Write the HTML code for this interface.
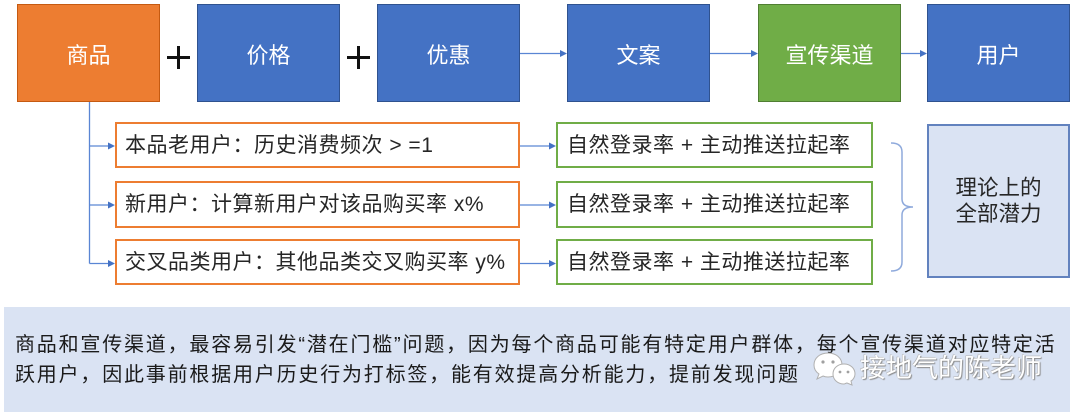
<!DOCTYPE html>
<html><head><meta charset="utf-8">
<style>
*{margin:0;padding:0;box-sizing:border-box}
body{width:1080px;height:417px;background:#fff;position:relative;overflow:hidden;font-family:"Liberation Sans","Noto Sans CJK SC",sans-serif;}
.b{position:absolute;display:flex;align-items:center;justify-content:center;color:#fff;font-size:22px;line-height:1;}
.t{top:4px;height:98px;width:143px;padding-top:6px;}
.blue{background:#4472C4;border:1px solid #2F528F}
.org{background:#ED7D31;border:1px solid #C55A11}
.grn{background:#70AD47;border:1px solid #507E32}
.r{position:absolute;display:flex;align-items:center;height:46px;font-size:21px;letter-spacing:0.5px;color:#262626;background:#fff;line-height:1;white-space:nowrap;}
.ro{left:115px;width:405px;border:2px solid #ED7D31;padding-left:8px;}
.rg{left:556px;width:317px;border:2px solid #70AD47;padding-left:9px;}
.bar{position:absolute;background:#111}
.panel{position:absolute;left:4px;top:307px;width:1066px;height:105px;background:#DAE3F3;}
.pl{position:absolute;left:15px;font-size:20px;line-height:30px;letter-spacing:1.8px;color:#1a1a1a;white-space:nowrap;}
</style></head>
<body>
<div class="b t org" style="left:17px">商品</div>
<div class="b t blue" style="left:197px">价格</div>
<div class="b t blue" style="left:377px">优惠</div>
<div class="b t blue" style="left:567px">文案</div>
<div class="b t grn" style="left:758px">宣传渠道</div>
<div class="b t blue" style="left:927px">用户</div>

<div class="bar" style="left:167px;top:56px;width:23px;height:3px"></div>
<div class="bar" style="left:177px;top:46px;width:3px;height:23px"></div>
<div class="bar" style="left:347px;top:56px;width:23px;height:3px"></div>
<div class="bar" style="left:357px;top:46px;width:3px;height:23px"></div>

<div class="r ro" style="top:122px">本品老用户：历史消费频次 &gt; =1</div>
<div class="r ro" style="top:181px;height:47px">新用户：计算新用户对该品购买率 x%</div>
<div class="r ro" style="top:239px">交叉品类用户：其他品类交叉购买率 y%</div>

<div class="r rg" style="top:122px">自然登录率 + 主动推送拉起率</div>
<div class="r rg" style="top:181px;height:47px">自然登录率 + 主动推送拉起率</div>
<div class="r rg" style="top:239px">自然登录率 + 主动推送拉起率</div>

<div style="position:absolute;left:927px;top:124px;width:143px;height:154px;background:#DAE3F3;border:2px solid #6282be;display:flex;align-items:center;justify-content:center;text-align:center;font-size:21.5px;line-height:26px;color:#262626;">理论上的<br>全部潜力</div>

<div class="panel"></div>
<div class="pl" style="top:330px">商品和宣传渠道，最容易引发“潜在门槛”问题，因为每个商品可能有特定用户群体，每个宣传渠道对应特定活</div>
<div class="pl" style="top:360px">跃用户，因此事前根据用户历史行为打标签，能有效提高分析能力，提前发现问题</div>

<svg width="1080" height="417" style="position:absolute;left:0;top:0" xmlns="http://www.w3.org/2000/svg">
<g stroke="#5a86d4" stroke-width="1.3" fill="none">
<line x1="520" y1="53.5" x2="561" y2="53.5"/>
<line x1="710" y1="53.5" x2="752" y2="53.5"/>
<line x1="901" y1="53.5" x2="921" y2="53.5"/>
<line x1="89.5" y1="102" x2="89.5" y2="263.5"/>
<line x1="89.5" y1="146" x2="109" y2="146"/>
<line x1="89.5" y1="205" x2="109" y2="205"/>
<line x1="89.5" y1="263.5" x2="109" y2="263.5"/>
<line x1="520" y1="146" x2="550" y2="146"/>
<line x1="520" y1="205" x2="550" y2="205"/>
<line x1="520" y1="263.5" x2="550" y2="263.5"/>
</g>
<g fill="#4472C4">
<polygon points="567,53.5 560,50 560,57"/>
<polygon points="758,53.5 751,50 751,57"/>
<polygon points="927,53.5 920,50 920,57"/>
<polygon points="115,146 108,142.5 108,149.5"/>
<polygon points="115,205 108,201.5 108,208.5"/>
<polygon points="115,263.5 108,260 108,267"/>
<polygon points="556,146 549,142.5 549,149.5"/>
<polygon points="556,205 549,201.5 549,208.5"/>
<polygon points="556,263.5 549,260 549,267"/>
</g>
<path d="M891,143 Q902,143 902,152 L902,199 Q902,207 913,207 Q902,207 902,215 L902,262 Q902,271 891,271" stroke="#8faadc" stroke-width="1.5" fill="none"/>
<g>
<path d="M828,353 C820,353 814,358 814,365 C814,369 816,372 819,374 L817,379 L823,376 C825,377 826,377 828,377 C836,377 842,372 842,365 C842,358 836,353 828,353 Z" fill="#fff" stroke="#b0b0b0" stroke-width="1"/>
<circle cx="823" cy="362" r="1.6" fill="#a0a0a0"/>
<circle cx="833" cy="362" r="1.6" fill="#a0a0a0"/>
<path d="M844,364 C850,364 855,368 855,374 C855,377 853,380 851,381 L852,385 L847,383 C846,383 845,384 844,384 C838,384 833,380 833,374 C833,368 838,364 844,364 Z" fill="#fff" stroke="#b0b0b0" stroke-width="1"/>
<circle cx="840" cy="372" r="1.4" fill="#a0a0a0"/>
<circle cx="848" cy="372" r="1.4" fill="#a0a0a0"/>
</g>
</svg>
<div style="position:absolute;left:860px;top:355px;font-size:26px;line-height:26px;color:#fff;text-shadow:1px 1px 1px #8a8a8a,-0.5px -0.5px 0.5px #aaa;white-space:nowrap;font-family:'Liberation Sans','Noto Sans CJK SC',sans-serif;">接地气的陈老师</div>
</body></html>
